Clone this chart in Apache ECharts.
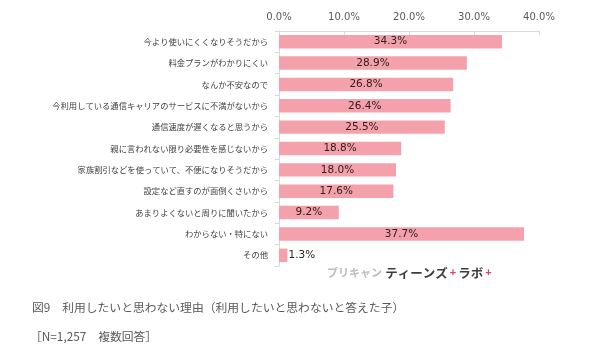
<!DOCTYPE html>
<html>
<head>
<meta charset="utf-8">
<script src="https://cdn.jsdelivr.net/npm/echarts@6/dist/echarts.min.js"></script>
<style>
  html, body { margin: 0; padding: 0; background: #fff; }
  #chart { width: 590px; height: 362px; }
</style>
</head>
<body>
<div id="chart"></div>
<script>
const categories = [
  '今より使いにくくなりそうだから',
  '料金プランがわかりにくい',
  'なんか不安なので',
  '今利用している通信キャリアのサービスに不満がないから',
  '通信速度が遅くなると思うから',
  '親に言われない限り必要性を感じないから',
  '家族割引などを使っていて、不便になりそうだから',
  '設定など直すのが面倒くさいから',
  'あまりよくないと周りに聞いたから',
  'わからない・特にない',
  'その他'
];
const values = [34.3, 28.9, 26.8, 26.4, 25.5, 18.8, 18.0, 17.6, 9.2, 37.7, 1.3];
const xTicks = [0, 10, 20, 30, 40];

const titleText = '図9　利用したいと思わない理由（利用したいと思わないと答えた子）';
const noteText = '［N=1,257　複数回答］';

const chart = echarts.init(document.getElementById('chart'));

const barData = values.map(v => ({
  value: v,
  label: { position: v < 5 ? 'right' : 'inside', distance: 1 }
}));

chart.setOption({
  animation: false,
  textStyle: { fontFamily: '"DejaVu Sans", "Noto Sans CJK JP", sans-serif' },
  grid: { left: 279, right: 51, top: 31, height: 235 },
  xAxis: {
    type: 'value',
    position: 'top',
    min: xTicks[0],
    max: xTicks[xTicks.length - 1],
    interval: 10,
    splitLine: { show: false },
    axisLine: { show: true, lineStyle: { color: '#d9d9d9' } },
    axisTick: { show: true, inside: true, length: 4, lineStyle: { color: '#d9d9d9' } },
    axisLabel: {
      color: '#595959',
      fontSize: 10,
      margin: 9,
      formatter: v => v.toFixed(1) + '%'
    }
  },
  yAxis: {
    type: 'category',
    inverse: true,
    data: categories,
    axisLine: { show: true, lineStyle: { color: '#d9d9d9' } },
    axisTick: { show: true, length: 4, lineStyle: { color: '#d9d9d9' } },
    axisLabel: {
      color: '#404040',
      fontSize: 8.3,
      margin: 11,
      fontFamily: '"Noto Sans CJK JP", sans-serif'
    }
  },
  series: [{
    type: 'bar',
    data: barData,
    barCategoryGap: '37%',
    itemStyle: { color: '#f4a1ab' },
    label: {
      show: true,
      color: '#2e2020',
      fontSize: 10.5,
      formatter: p => p.value.toFixed(1) + '%'
    }
  }],
  graphic: [
    {
      type: 'text',
      left: 327,
      top: 267,
      style: {
        text: '{a|プリキャン} {b|ティーンズ}{p|+}{b|ラボ}{p|+}',
        rich: {
          a: { fontSize: 11, fontWeight: 'bold', fill: '#bdbdbd', fontFamily: '"Noto Sans CJK JP", sans-serif' },
          b: { fontSize: 12.5, fontWeight: 'bold', fill: '#3c3c3c', fontFamily: '"Noto Sans CJK JP", sans-serif' },
          p: { fontSize: 11, fontWeight: 'bold', fill: '#e23d7a', padding: [0, 2, 0, 2] }
        }
      }
    },
    {
      type: 'text',
      left: 32,
      top: 302,
      style: {
        text: titleText,
        fontSize: 11.8,
        fill: '#595959',
        fontFamily: '"Noto Sans CJK JP", sans-serif'
      }
    },
    {
      type: 'text',
      left: 30,
      top: 331,
      style: {
        text: noteText,
        fontSize: 11.8,
        fill: '#595959',
        fontFamily: '"Noto Sans CJK JP", sans-serif'
      }
    }
  ]
});
</script>
</body>
</html>
